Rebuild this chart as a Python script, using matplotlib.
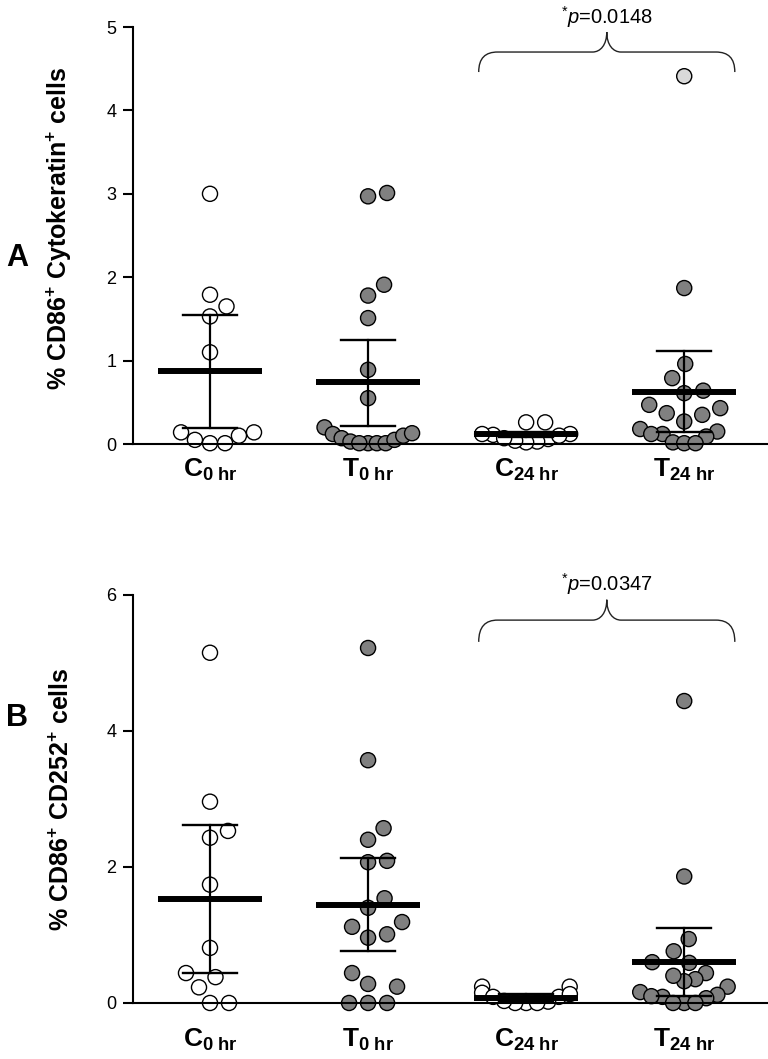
import numpy as np
import matplotlib
matplotlib.use('Agg')
import matplotlib.pyplot as plt
from matplotlib.path import Path
from matplotlib.patches import PathPatch

plt.rcParams['font.family'] = ['Liberation Sans', 'DejaVu Sans']
plt.rcParams['mathtext.fontset'] = 'custom'
plt.rcParams['mathtext.rm'] = 'Liberation Sans'
plt.rcParams['mathtext.it'] = 'Liberation Sans:italic'
plt.rcParams['mathtext.bf'] = 'Liberation Sans:bold'

groups = [r'$\mathbf{C_{0\ hr}}$', r'$\mathbf{T_{0\ hr}}$',
          r'$\mathbf{C_{24\ hr}}$', r'$\mathbf{T_{24\ hr}}$']

# panel A: % CD86+ Cytokeratin+ cells
c0_a = [3.00, 1.79, 1.65, 1.53, 1.10, 0.14, 0.14, 0.05, 0.01, 0.01, 0.10]
t0_a = [3.01, 2.97, 1.91, 1.78, 1.51, 0.89, 0.55, 0.20, 0.12, 0.07, 0.03,
        0.01, 0.01, 0.01, 0.01, 0.05, 0.10, 0.13]
c24_a = [0.26, 0.26, 0.12, 0.11, 0.06, 0.03, 0.02, 0.04, 0.07, 0.10, 0.12]
t24_a = [4.41, 1.87, 0.96, 0.79, 0.61, 0.64, 0.43, 0.35, 0.37, 0.47, 0.27,
         0.12, 0.15, 0.18, 0.09, 0.12, 0.02, 0.01, 0.01]
mean_a = [0.87, 0.74, 0.12, 0.62]
lo_a = [0.19, 0.22, 0.09, 0.14]
hi_a = [1.55, 1.25, 0.15, 1.11]

# panel B: % CD86+ CD252+ cells
c0_b = [5.15, 2.96, 2.53, 2.43, 1.74, 0.81, 0.44, 0.38, 0.23, 0.0, 0.0]
t0_b = [5.22, 3.57, 2.57, 2.40, 2.07, 2.09, 1.54, 1.40, 1.12, 1.19, 0.96,
        1.01, 0.44, 0.28, 0.24, 0.0, 0.0, 0.0]
c24_b = [0.24, 0.24, 0.15, 0.09, 0.02, 0.0, 0.0, 0.0, 0.03, 0.09, 0.13]
t24_b = [4.44, 1.86, 0.94, 0.76, 0.60, 0.59, 0.44, 0.35, 0.32, 0.40, 0.24,
         0.16, 0.12, 0.09, 0.07, 0.10, 0.0, 0.0, 0.0]
mean_b = [1.53, 1.44, 0.08, 0.60]
lo_b = [0.44, 0.76, 0.03, 0.10]
hi_b = [2.62, 2.13, 0.13, 1.10]


def swarm(ax, x0, vals, dcoll=19.0, maxw=44.0, rowgap=6.0):
    # greedy beeswarm in pixel space, then squeeze rows that get too wide
    vals = np.asarray(vals, float)
    pts = ax.transData.transform(np.column_stack([np.full(len(vals), x0), vals]))
    ys = pts[:, 1]
    offs = np.zeros(len(vals))
    placed = []
    for i in np.argsort(vals, kind='stable'):
        best = None
        for k in range(0, 400):
            for sgn in ((1,) if k == 0 else (1, -1)):
                off = sgn * k * 0.5
                if all((off - px) ** 2 + (ys[i] - py) ** 2 >= dcoll ** 2 for px, py in placed):
                    best = off
                    break
            if best is not None:
                break
        placed.append((best, ys[i]))
        offs[i] = best
    order = np.argsort(ys)
    rows, cur = [], [order[0]]
    for a, b in zip(order[:-1], order[1:]):
        if ys[b] - ys[a] > rowgap:
            rows.append(cur)
            cur = []
        cur.append(b)
    rows.append(cur)
    for r in rows:
        m = np.abs(offs[r]).max()
        if m > maxw:
            offs[r] *= maxw / m
    back = ax.transData.inverted().transform(np.column_stack([pts[:, 0] + offs, ys]))
    return back[:, 0]


def brace(ax, xc, half, yb, yh, yt, ytext, text):
    x0, x1 = xc - half, xc + half
    rx, mx = 0.12, 0.09
    verts = [(x0, yb), (x0, yb + 0.7 * (yh - yb)), (x0 + 0.35 * rx, yh), (x0 + rx, yh),
             (xc - mx, yh),
             (xc - 0.45 * mx, yh), (xc, yh + 0.35 * (yt - yh)), (xc, yt),
             (xc, yh + 0.35 * (yt - yh)), (xc + 0.45 * mx, yh), (xc + mx, yh),
             (x1 - rx, yh),
             (x1 - 0.35 * rx, yh), (x1, yb + 0.7 * (yh - yb)), (x1, yb)]
    codes = [Path.MOVETO, Path.CURVE4, Path.CURVE4, Path.CURVE4, Path.LINETO,
             Path.CURVE4, Path.CURVE4, Path.CURVE4, Path.CURVE4, Path.CURVE4, Path.CURVE4,
             Path.LINETO, Path.CURVE4, Path.CURVE4, Path.CURVE4]
    ax.add_patch(PathPatch(Path(verts, codes), fill=False, lw=1.0, color='#222222',
                           clip_on=False))
    ax.text(xc, ytext, text, ha='center', va='center', fontsize=14.5, clip_on=False)


def panel(ax, data, means, lo, hi, ymax, yticks, ylabel, ptext, brace_y, xpad,
          highlight=None):
    x = np.arange(1, 5)
    ax.set_xlim(0.513, 4.53)
    ax.set_ylim(0, ymax)
    fills = ['white', '#808080', 'white', '#808080']
    for i, vals in enumerate(data):
        xs = swarm(ax, x[i], vals)
        fc = [fills[i]] * len(vals)
        if highlight is not None and highlight[0] == i:
            fc[highlight[1]] = '#d9d9d9'
        ax.scatter(xs, vals, s=118, facecolors=fc, edgecolors='black', linewidths=1.0,
                   zorder=2, clip_on=False)
        ax.plot([x[i], x[i]], [lo[i], hi[i]], color='black', lw=1.6, zorder=3)
        for v in (lo[i], hi[i]):
            ax.plot([x[i] - 0.17, x[i] + 0.17], [v, v], color='black', lw=1.7, zorder=3)
        ax.plot([x[i] - 0.33, x[i] + 0.33], [means[i], means[i]], color='black',
                lw=4.3, solid_capstyle='butt', zorder=4)
    ax.spines[['top', 'right']].set_visible(False)
    ax.spines['left'].set_linewidth(1.5)
    ax.spines['bottom'].set_linewidth(1.5)
    ax.set_xticks(x)
    ax.set_xticklabels(groups, fontsize=19)
    ax.tick_params(axis='x', length=0, pad=xpad)
    ax.set_yticks(yticks)
    ax.tick_params(axis='y', length=7, width=1.5, labelsize=13, pad=5)
    ax.set_ylabel(ylabel, fontsize=18, fontweight='bold')
    brace(ax, 3.51, 0.81, *brace_y, ptext)


fig = plt.figure(figsize=(7.68, 10.59), dpi=100)
ax_a = fig.add_axes([0.1732, 0.5807, 0.8268, 0.3938])
ax_b = fig.add_axes([0.1732, 0.0529, 0.8268, 0.3853])

panel(ax_a, [c0_a, t0_a, c24_a, t24_a], mean_a, lo_a, hi_a, 5, [0, 1, 2, 3, 4, 5],
      r'% CD86$^{\mathbf{+}}$ Cytokeratin$^{\mathbf{+}}$ cells',
      r'$^{*}\mathit{p}$=0.0148', (4.46, 4.70, 4.94, 5.12), 9, highlight=(3, 0))
panel(ax_b, [c0_b, t0_b, c24_b, t24_b], mean_b, lo_b, hi_b, 6, [0, 2, 4, 6],
      r'% CD86$^{\mathbf{+}}$ CD252$^{\mathbf{+}}$ cells',
      r'$^{*}\mathit{p}$=0.0347', (5.31, 5.63, 5.93, 6.16), 17)

ax_a.yaxis.set_label_coords(-0.093, 0.518)
ax_b.yaxis.set_label_coords(-0.093, 0.5)

fig.text(17 / 768, 1 - 258 / 1059, 'A', fontsize=22, fontweight='bold', ha='center', va='center')
fig.text(17 / 768, 1 - 718 / 1059, 'B', fontsize=22, fontweight='bold', ha='center', va='center')

fig.savefig('out.png', dpi=100)
